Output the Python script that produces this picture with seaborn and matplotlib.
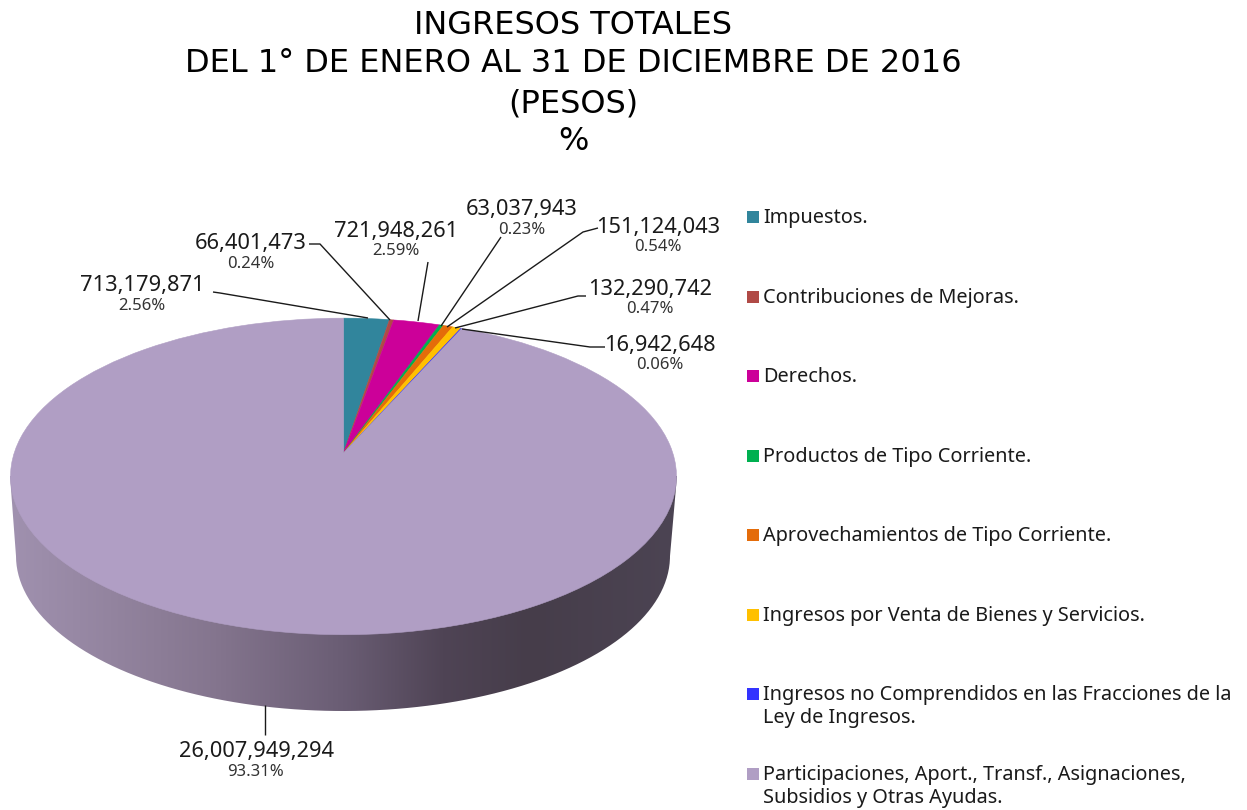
import numpy as np
import matplotlib
matplotlib.use("Agg")
import matplotlib.pyplot as plt
import seaborn as sns
from matplotlib.colors import LinearSegmentedColormap
from matplotlib.patches import PathPatch, Rectangle
from matplotlib.path import Path
from matplotlib.transforms import Transform

# ---- data ----
title_lines = ["INGRESOS TOTALES", "DEL 1° DE ENERO AL 31 DE DICIEMBRE DE 2016", "(PESOS)", "%"]
categories = ["Impuestos.", "Contribuciones de Mejoras.", "Derechos.", "Productos de Tipo Corriente.",
              "Aprovechamientos de Tipo Corriente.", "Ingresos por Venta de Bienes y Servicios.",
              "Ingresos no Comprendidos en las Fracciones de la\nLey de Ingresos.",
              "Participaciones, Aport., Transf., Asignaciones,\nSubsidios y Otras Ayudas."]
values = [713179871, 66401473, 721948261, 63037943, 151124043, 132290742, 16942648, 26007949294]
percents = ["2.56%", "0.24%", "2.59%", "0.23%", "0.54%", "0.47%", "0.06%", "93.31%"]
colors = ["#31859C", "#B04A46", "#CC0099", "#00B050", "#E46C0A", "#FFC000", "#3333FF", "#B09EC4"]

# ---- layout ----
W, H = 1247, 810
CX, CY = 343.5, 453.0      # apex of the pie
A, B, K = 329.3, 154.8, 0.148   # perspective of the top face
label_xy = [(142, 286), (251, 244), (396, 231), (522, 210), (658, 227), (650, 289), (660, 345), (256, 752)]
leaders = [[(213, 292), (220, 293), (368, 318)],
           [(309, 244), (320, 244), (390, 320)],
           [(428, 262), (418, 321)],
           [(501, 237), (441, 326)],
           [(598, 228), (583, 232), (447, 327)],
           [(586, 296), (578, 296), (455, 328)],
           [(605, 347), (590, 347), (462, 329)],
           [(265, 705), (265, 735)]]
legend_y = [217, 297, 376, 456, 535, 615, 694, 774]

sns.set_theme(style="white", font="Noto Sans")
palette = sns.color_palette(colors)


class Perspective(Transform):
    input_dims = output_dims = 2

    def transform_non_affine(self, xy):
        xy = np.asarray(xy, float)
        w = 1 + K * xy[:, 1]
        return np.column_stack([CX + A * xy[:, 0] / w, CY - B * xy[:, 1] / w])


fig = plt.figure(figsize=(W / 100, H / 100), dpi=100, facecolor="white")
ax = fig.add_axes([0, 0, 1, 1])

wedges, _ = ax.pie(values, colors=palette, startangle=90, counterclock=False,
                   wedgeprops=dict(linewidth=0.4))
persp = Perspective() + ax.transData
for w in wedges:
    w.set_edgecolor(w.get_facecolor())
    w.set_transform(persp)
    w.set_zorder(3)
ax.set_aspect("auto")

# side wall of the pie with its shading
t = np.linspace(np.pi, 2 * np.pi, 200)
bottom = np.column_stack([343 + 327 * np.cos(t), 556 - 155 * np.sin(t)])
side = np.vstack([[(10, 476)], bottom, [(677, 476)], [(10, 476)]])
cmap = LinearSegmentedColormap.from_list("side", [
    (0.00, "#A091AF"), (0.15, "#93849F"), (0.30, "#85768F"), (0.50, "#6A5D74"),
    (0.65, "#4F4455"), (0.78, "#463D4A"), (1.00, "#4C4453")])
im = ax.imshow(np.linspace(0, 1, 256)[None, :], cmap=cmap, extent=(10, 677, 715, 470),
               aspect="auto", zorder=2)
clip = PathPatch(Path(side), transform=ax.transData, facecolor="none", edgecolor="none")
ax.add_patch(clip)
im.set_clip_path(clip)

ax.set_xlim(0, W)
ax.set_ylim(H, 0)
ax.axis("off")

# leader lines (drawn under the labels)
for pts in leaders:
    p = np.array(pts)
    ax.plot(p[:, 0], p[:, 1], color="#1a1a1a", lw=1.0, zorder=4, solid_capstyle="butt")

# data labels
for (x, y), v, pct in zip(label_xy, values, percents):
    ax.text(x, y, f"{v:,}", ha="center", va="center", fontsize=15.7, color="#1a1a1a", zorder=5)
    ax.text(x, y + 20, pct, ha="center", va="center", fontsize=12, color="#333333", zorder=5)

# legend
for y, c, name in zip(legend_y, palette, categories):
    ax.add_patch(Rectangle((747, y - 6), 12, 12, facecolor=c, edgecolor="none"))
    ax.text(763, y - 9, name, ha="left", va="top", fontsize=14.3, color="#1a1a1a", linespacing=1.22)

# title
for y, line in zip([25, 64, 104, 142], title_lines):
    ax.text(573, y, line, ha="center", va="center", fontsize=23, color="black",
            family="DejaVu Sans")

fig.savefig("out.png", dpi=100, facecolor="white")
